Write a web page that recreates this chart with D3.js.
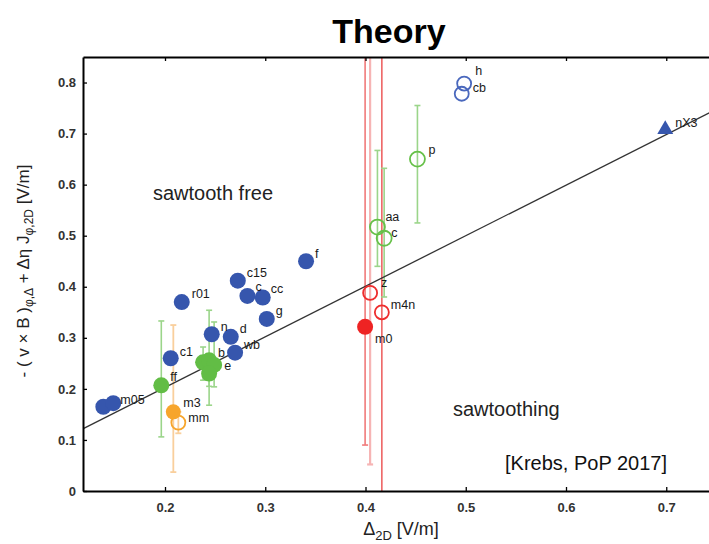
<!DOCTYPE html>
<html>
<head>
<meta charset="utf-8">
<script src="https://cdn.jsdelivr.net/npm/d3@7"></script>
<style>
  html, body { margin: 0; padding: 0; background: #fff; }
  svg { display: block; font-family: "Liberation Sans", Arial, sans-serif; }
</style>
</head>
<body>
<svg id="chart" width="709" height="544"></svg>
<script>
// ---------------- data ----------------
const xTicks = [0.2, 0.3, 0.4, 0.5, 0.6, 0.7];
const yTicks = [0, 0.1, 0.2, 0.3, 0.4, 0.5, 0.6, 0.7, 0.8];

// filled blue circles (no error bars)
const blueFilled = [
  { label: "",    x: 0.1385, y: 0.165 },
  { label: "m05", x: 0.1484, y: 0.172 },
  { label: "c1",  x: 0.2057, y: 0.260 },
  { label: "r01", x: 0.2167, y: 0.370 },
  { label: "n",   x: 0.2466, y: 0.307 },
  { label: "d",   x: 0.2656, y: 0.302 },
  { label: "wb",  x: 0.2699, y: 0.271 },
  { label: "c15", x: 0.2726, y: 0.412 },
  { label: "c",   x: 0.2822, y: 0.382 },
  { label: "cc",  x: 0.2975, y: 0.379 },
  { label: "g",   x: 0.3015, y: 0.337 },
  { label: "f",   x: 0.3407, y: 0.450 }
];
// open blue circles
const blueOpen = [
  { label: "h",  x: 0.4984, y: 0.798 },
  { label: "cb", x: 0.4960, y: 0.778 }
];
// blue triangle
const blueTriangle = [ { label: "nX3", x: 0.699, y: 0.708 } ];

// filled green circles with error bars
const greenFilled = [
  { label: "ff", x: 0.1963, y: 0.207, lo: 0.106, hi: 0.333 },
  { label: "",   x: 0.2380, y: 0.252, lo: 0.217, hi: 0.282 },
  { label: "b",  x: 0.2440, y: 0.256, lo: 0.168, hi: 0.354 },
  { label: "e",  x: 0.2490, y: 0.247, lo: 0.204, hi: 0.331 },
  { label: "",   x: 0.2440, y: 0.230, lo: 0.205, hi: 0.262 }
];
// open green circles with error bars
const greenOpen = [
  { label: "aa", x: 0.4119, y: 0.517, lo: 0.440, hi: 0.667 },
  { label: "c",  x: 0.4186, y: 0.495, lo: 0.380, hi: 0.632 },
  { label: "p",  x: 0.4518, y: 0.650, lo: 0.525, hi: 0.755 }
];
// orange
const orangeFilled = [ { label: "m3", x: 0.2083, y: 0.155, lo: 0.037, hi: 0.325 } ];
const orangeOpen   = [ { label: "mm", x: 0.2133, y: 0.134, lo: 0.113, hi: 0.155 } ];
// red
const redFilled = [ { label: "m0", x: 0.3996, y: 0.3215, lo: 0.090, hi: 1.2 } ];
const redOpen = [
  { label: "z",   x: 0.4046, y: 0.388, lo: 0.052, hi: 1.2 },
  { label: "m4n", x: 0.4163, y: 0.350, lo: -0.1,  hi: 1.2 }
];
// fitted line y = slope * x + intercept
const fitSlope = 0.99;
const fitIntercept = 0.005;
const fitRange = [0.118, 0.76];

// --------------- layout / style ---------------
const labelOffsets = {
  "m05": [7, 1], "c1": [9, -2], "r01": [10, -4], "n": [9, -3], "d": [9, -4], "wb": [9, -4],
  "c15": [9, -4], "c": [8, -5], "cc": [8, -4], "g": [9, -4], "f": [9, -3],
  "h": [11, -9], "cb": [11, -2], "nX3": [10, -3],
  "ff": [9, -4], "b": [9, -3], "e": [10, 5],
  "aa": [8, -6], "c_g": [7, -1], "p": [11, -5],
  "m3": [10, -5], "mm": [10, -1], "m0": [10, 16], "z": [11, -6], "m4n": [9, -3]
};

const svg = d3.select("#chart");
const L = 83, R = 725, T = 57, B = 491;
const x = d3.scaleLinear().domain([0.1182, 0.7586]).range([L, R]);
const y = d3.scaleLinear().domain([0, 0.85]).range([B, T]);

svg.append("defs").append("clipPath").attr("id", "plotclip")
  .append("rect").attr("x", L).attr("y", T).attr("width", R - L).attr("height", B - T);

// title
svg.append("text").attr("x", 389).attr("y", 43).attr("text-anchor", "middle")
  .attr("font-size", 34).attr("font-weight", "bold").attr("fill", "#000")
  .text("Theory");

const plot = svg.append("g").attr("clip-path", "url(#plotclip)");

// error bars
function errorBars(data, color, width) {
  const g = plot.append("g").attr("stroke", color).attr("stroke-width", width).attr("fill", "none");
  g.selectAll("line.v").data(data).join("line")
    .attr("x1", d => x(d.x)).attr("x2", d => x(d.x))
    .attr("y1", d => y(d.lo)).attr("y2", d => y(d.hi));
  g.selectAll("line.lo").data(data).join("line").attr("class", "lo")
    .attr("x1", d => x(d.x) - 3).attr("x2", d => x(d.x) + 3)
    .attr("y1", d => y(d.lo)).attr("y2", d => y(d.lo));
  g.selectAll("line.hi").data(data).join("line").attr("class", "hi")
    .attr("x1", d => x(d.x) - 3).attr("x2", d => x(d.x) + 3)
    .attr("y1", d => y(d.hi)).attr("y2", d => y(d.hi));
}
errorBars(redFilled, "#f07a7a", 1.6);
errorBars([redOpen[0]], "#f6b4b4", 2.2);
errorBars([redOpen[1]], "#ee6464", 1.6);
errorBars(greenFilled, "#9bd58a", 1.6);
errorBars(greenOpen, "#9bd58a", 1.6);
errorBars(orangeFilled, "#f9cf9c", 1.8);
errorBars(orangeOpen, "#f9cf9c", 1.8);

// fitted line
plot.append("line")
  .attr("x1", x(fitRange[0])).attr("y1", y(fitSlope * fitRange[0] + fitIntercept))
  .attr("x2", x(fitRange[1])).attr("y2", y(fitSlope * fitRange[1] + fitIntercept))
  .attr("stroke", "#333").attr("stroke-width", 1.3);

// markers
function filled(data, color, r) {
  plot.append("g").selectAll("circle").data(data).join("circle")
    .attr("cx", d => x(d.x)).attr("cy", d => y(d.y)).attr("r", r).attr("fill", color);
}
function open(data, color, r) {
  plot.append("g").selectAll("circle").data(data).join("circle")
    .attr("cx", d => x(d.x)).attr("cy", d => y(d.y)).attr("r", r)
    .attr("fill", "none").attr("stroke", color).attr("stroke-width", 1.8);
}
filled(blueFilled, "#3656ad", 8);
open(blueOpen, "#4a68bd", 7);
plot.append("g").selectAll("path").data(blueTriangle).join("path")
  .attr("transform", d => `translate(${x(d.x)},${y(d.y)})`)
  .attr("d", d3.symbol(d3.symbolTriangle, 110)())
  .attr("fill", "#3656ad");
filled(greenFilled, "#62bd45", 8);
open(greenOpen, "#66c048", 7.5);
filled(orangeFilled, "#f7a52c", 7.5);
open(orangeOpen, "#f7a52c", 7);
filled(redFilled, "#ee2323", 8);
open(redOpen, "#ee2d2d", 7);

// point labels
function labels(data, keyFn) {
  plot.append("g").selectAll("text").data(data.filter(d => d.label)).join("text")
    .attr("x", d => x(d.x) + labelOffsets[keyFn(d)][0])
    .attr("y", d => y(d.y) + labelOffsets[keyFn(d)][1])
    .attr("font-size", 12.5).attr("fill", "#1a1a1a")
    .text(d => d.label);
}
const k = d => d.label;
labels(blueFilled, k);
labels(blueOpen, k);
labels(blueTriangle, k);
labels(greenFilled, k);
labels(greenOpen, d => d.label === "c" ? "c_g" : d.label);
labels(orangeFilled, k);
labels(orangeOpen, k);
labels(redFilled, k);
labels(redOpen, k);

// axes
const fmtY = d => d === 0 ? "0" : d3.format(".1f")(d);
const xAxis = svg.append("g").attr("transform", `translate(0,${B})`)
  .call(d3.axisBottom(x).tickValues(xTicks).tickFormat(d3.format(".1f"))
        .tickSizeInner(-4).tickSizeOuter(0).tickPadding(12));
const xTop = svg.append("g").attr("transform", `translate(0,${T})`)
  .call(d3.axisTop(x).tickValues(xTicks).tickFormat("")
        .tickSizeInner(-4).tickSizeOuter(0));
const yAxis = svg.append("g").attr("transform", `translate(${L},0)`)
  .call(d3.axisLeft(y).tickValues(yTicks).tickFormat(fmtY)
        .tickSizeInner(-4).tickSizeOuter(0).tickPadding(7));
const yRight = svg.append("g").attr("transform", `translate(${R},0)`)
  .call(d3.axisRight(y).tickValues(yTicks).tickFormat("")
        .tickSizeInner(-4).tickSizeOuter(0));
[xAxis, xTop, yAxis, yRight].forEach(g => {
  g.select(".domain").attr("stroke", "#000").attr("stroke-width", 2);
  g.selectAll(".tick line").attr("stroke", "#000").attr("stroke-width", 1.3);
  g.selectAll(".tick text").attr("font-size", 13).attr("font-weight", "bold").attr("fill", "#333")
    .attr("font-family", "Liberation Sans, Arial, sans-serif");
});

// region annotations
svg.append("text").attr("x", 153).attr("y", 200).attr("font-size", 20).attr("fill", "#222")
  .text("sawtooth free");
svg.append("text").attr("x", 453).attr("y", 416).attr("font-size", 20).attr("fill", "#222")
  .text("sawtoothing");
svg.append("text").attr("x", 505).attr("y", 470).attr("font-size", 20).attr("fill", "#111")
  .text("[Krebs, PoP 2017]");

// x axis label
const xl = svg.append("text").attr("x", 401).attr("y", 535).attr("text-anchor", "middle")
  .attr("font-size", 18).attr("fill", "#222");
xl.append("tspan").text("Δ");
xl.append("tspan").attr("font-size", 13).attr("dy", 5).text("2D");
xl.append("tspan").attr("dy", -5).text(" [V/m]");

// y axis label
const yl = svg.append("text").attr("transform", "translate(29,271) rotate(-90)")
  .attr("text-anchor", "middle").attr("font-size", 17).attr("fill", "#222");
yl.append("tspan").text("- ( v × B )");
yl.append("tspan").attr("font-size", 12).attr("dy", 4).text("φ,Δ");
yl.append("tspan").attr("dy", -4).text(" + Δη J");
yl.append("tspan").attr("font-size", 12).attr("dy", 4).text("φ,2D");
yl.append("tspan").attr("dy", -4).text(" [V/m]");
</script>
</body>
</html>
